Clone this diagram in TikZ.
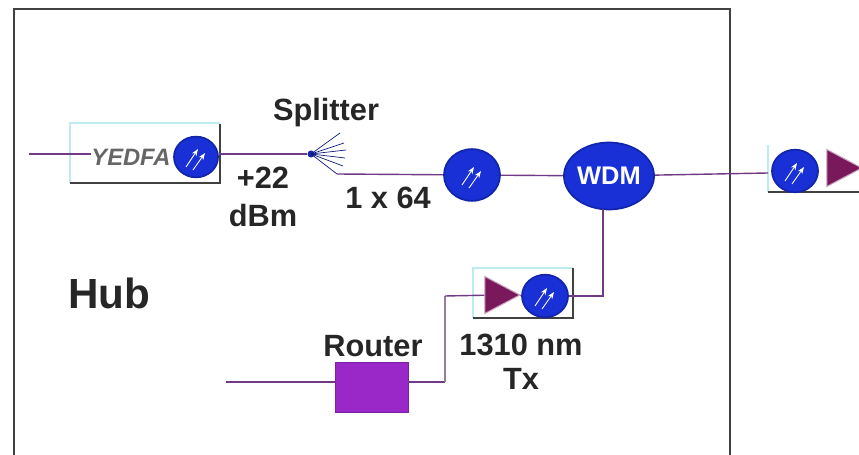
\documentclass[tikz,border=0pt]{standalone}
\usepackage{fontspec}
\setmainfont{Liberation Sans}
\usetikzlibrary{shapes.geometric, arrows.meta}
\definecolor{hub line}{RGB}{112,58,132}
\definecolor{blob blue}{RGB}{24,48,214}
\definecolor{tri plum}{RGB}{122,24,92}
\definecolor{router violet}{RGB}{154,40,200}
\definecolor{box cyan}{RGB}{190,235,238}
\tikzset{
  blob/.style={ellipse, draw=blob blue!80!black, line width=1pt, fill=blob blue, inner sep=0pt, minimum width=#1*0.02cm, minimum height=#1*0.0185cm},
  arrowblob/.style={blob=#1, path picture={
    \draw[white, line width=0.5pt, -{Stealth[length=4pt]}] ([shift={(-10,10)}]path picture bounding box.center) -- ([shift={(2,-8)}]path picture bounding box.center);
    \draw[white, line width=0.5pt, -{Stealth[length=4pt]}] ([shift={(-3,13)}]path picture bounding box.center) -- ([shift={(9,-4)}]path picture bounding box.center);}},
  tri/.style={isosceles triangle, isosceles triangle stretches, shape border rotate=0, fill=tri plum, draw=tri plum!40!white, line width=0.6pt, inner sep=0pt, minimum width=0.74cm, minimum height=0.7cm},
  lbl/.style={font=\fontsize{17.5}{19}\selectfont\bfseries, text=black!85, inner sep=0pt},
  fibre/.style={hub line, line width=0.8pt},
  cyanedge/.style={box cyan, line width=1.6pt},
  darkedge/.style={black!75, line width=1.4pt}
}
\begin{document}
\begin{tikzpicture}[x=0.02cm, y=-0.02cm]
  \useasboundingbox (0,0) rectangle (859,455);
  \draw[black!75, line width=1.5pt] (14,455) -- (14,9) -- (730,9) -- (730,455);
  % boxes
  \draw[cyanedge] (70,183) -- (70,123) -- (220,123);
  \draw[darkedge] (220,124) -- (220,183) -- (70,183);
  \draw[cyanedge] (473,318) -- (473,268) -- (573,268);
  \draw[darkedge] (573,268) -- (573,318) -- (473,318);
  \draw[cyanedge] (768,145) -- (768,192);
  \draw[darkedge] (768,192) -- (859,192);
  % parts
  \coordinate (edfa in) at (29,154);
  \coordinate (fan out) at (337,174);
  \coordinate (rx in) at (768,173);
  \coordinate (router in) at (226,382);
  \coordinate (router bend) at (445,382);
  \coordinate (tx in) at (445,296);
  \coordinate (wdm drop) at (603,209);
  \coordinate (wdm bend) at (603,296);
  \node[font=\fontsize{13.5}{15}\selectfont\bfseries\itshape, text=black!60, inner sep=0pt] (yedfa) at (131,157) {YEDFA};
  \node[arrowblob=44] (edfa) at (196,157) {};
  \node[circle, fill=blob blue!80!black, inner sep=0pt, minimum size=4pt] (split) at (311,154) {};
  \node[arrowblob=56] (coupler) at (472,175) {};
  \node[blob=56, minimum width=1.76cm, minimum height=1.34cm, font=\fontsize{14.5}{16}\selectfont\bfseries, text=white] (wdm) at (609,176) {WDM};
  \node[arrowblob=46] (rx) at (795,171) {};
  \node[tri] (rx tri) at (838,168) {};
  \node[tri] (tx tri) at (496,295) {};
  \node[arrowblob=46] (tx) at (545,296) {};
  \node[fill=router violet, draw=router violet!80!black, minimum width=1.46cm, minimum height=1cm, inner sep=0pt] (router) at (371.5,387) {};
  % fibres
  \draw[fibre] (edfa in) -- (edfa in -| yedfa.west);
  \draw[fibre] (edfa.east |- split) -- (split);
  \draw[fibre] (fan out) -- (coupler);
  \draw[fibre] (coupler) -- (wdm);
  \draw[fibre] (wdm) -- (rx in);
  \draw[fibre] (wdm drop) -- (wdm bend) -- (tx);
  \draw[fibre] (router in) -- (router in -| router.west);
  \draw[fibre] (router in -| router.east) -- (router bend);
  \draw[black!30!hub line!60!white, line width=1.1pt] (router bend) -- (tx in);
  \draw[fibre] (tx in) -- (tx tri);
  \draw[fibre] (tx tri) -- (tx);
  \foreach \fx/\fy in {340/133, 344/143, 346/150, 345/158, 343/166, 337/174}
    \draw[blob blue!60!black, line width=0.4pt] (split.center) -- (\fx,\fy);
  % labels
  \node[lbl] (splitter lbl) at (326,113) {Splitter};
  \node[lbl] (gain lbl) at (263,178) {+22};
  \node[lbl] (dbm lbl) at (263,216) {dBm};
  \node[lbl] (ratio lbl) at (388,198) {1 x 64};
  \node[lbl, font=\fontsize{24}{26}\selectfont\bfseries] (hub lbl) at (109,293) {Hub};
  \node[lbl] (router lbl) at (373,346) {Router};
  \node[lbl] (wave lbl) at (521,345) {1310 nm};
  \node[lbl] (tx lbl) at (521,379) {Tx};
\end{tikzpicture}
\end{document}
